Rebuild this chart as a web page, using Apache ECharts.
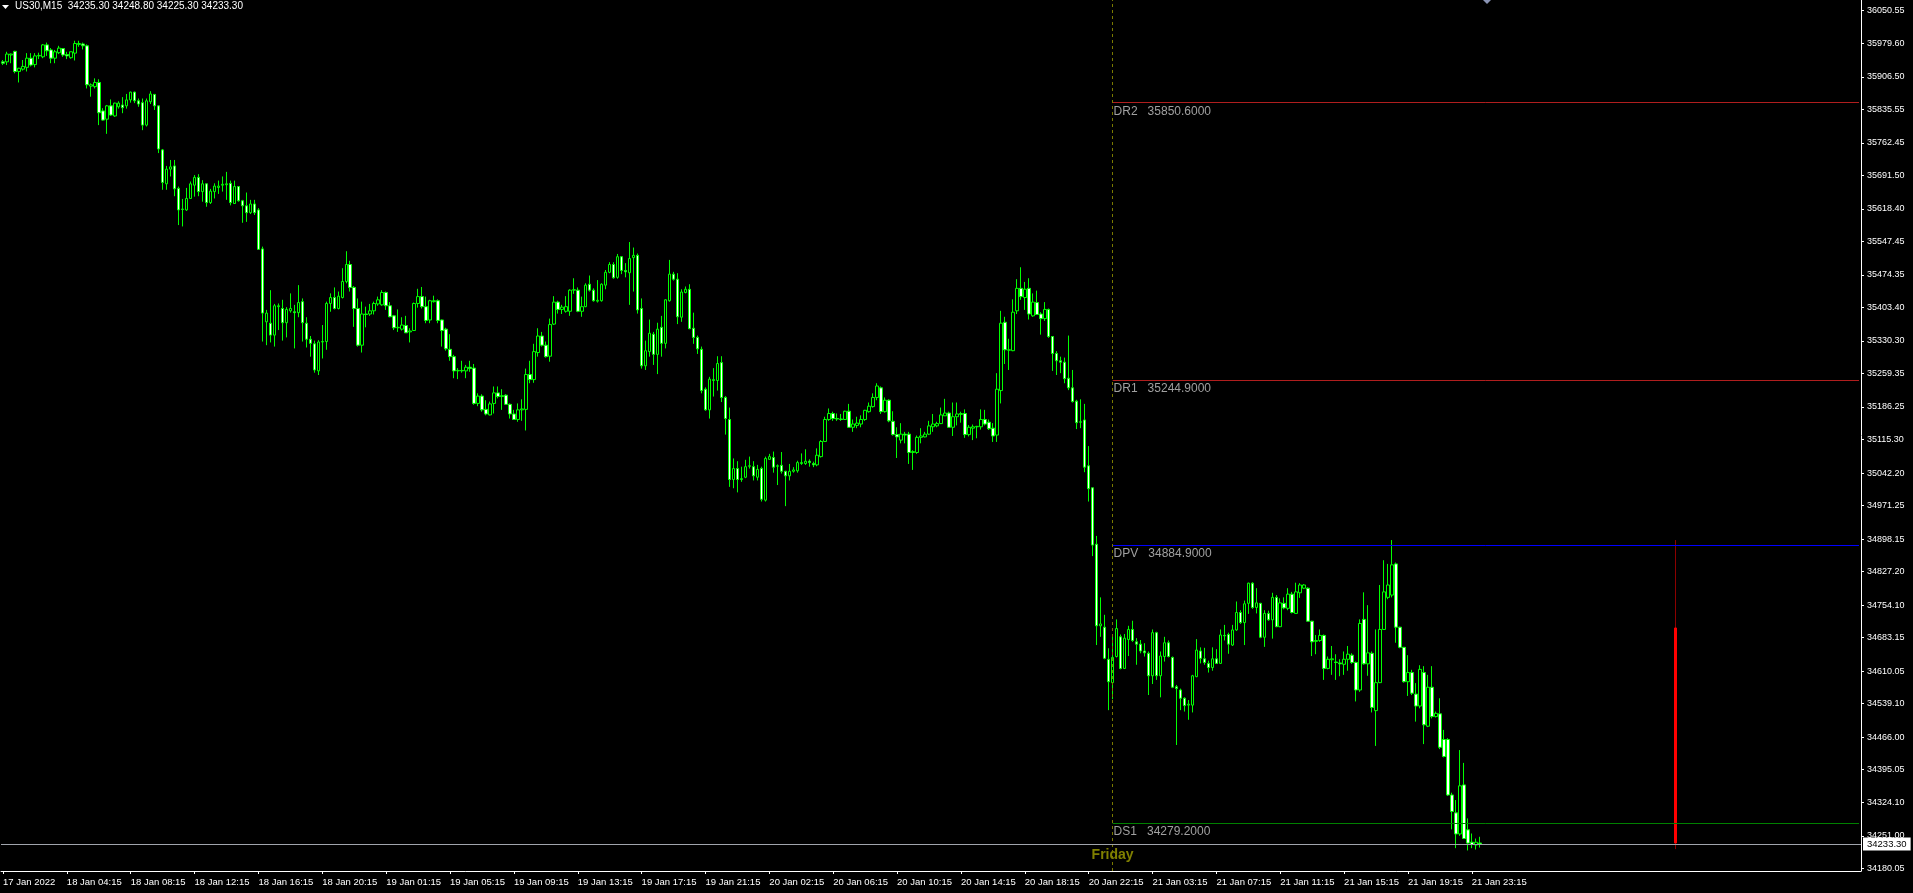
<!DOCTYPE html>
<html>
<head>
<meta charset="utf-8">
<title>US30,M15</title>
<script src="https://cdn.jsdelivr.net/npm/echarts@6/dist/echarts.min.js"></script>
<style>
  html, body { margin: 0; padding: 0; background: #000; }
  #chart { width: 1913px; height: 893px; }
</style>
</head>
<body>
<div id="chart"></div>
<script>
// symbol and timeframe
const symbolName = 'US30,M15';
// number of bar slots the window can hold
const slotCount = 466;

// time labels, one every 16 bars
const tickLabels = ['17 Jan 2022', '18 Jan 04:15', '18 Jan 08:15', '18 Jan 12:15', '18 Jan 16:15', '18 Jan 20:15',
  '19 Jan 01:15', '19 Jan 05:15', '19 Jan 09:15', '19 Jan 13:15', '19 Jan 17:15', '19 Jan 21:15',
  '20 Jan 02:15', '20 Jan 06:15', '20 Jan 10:15', '20 Jan 14:15', '20 Jan 18:15', '20 Jan 22:15',
  '21 Jan 03:15', '21 Jan 07:15', '21 Jan 11:15', '21 Jan 15:15', '21 Jan 19:15', '21 Jan 23:15'];

// price scale labels
const priceTicks = [36050.55, 35979.60, 35906.50, 35835.55, 35762.45, 35691.50, 35618.40, 35547.45, 35474.35,
  35403.40, 35330.30, 35259.35, 35186.25, 35115.30, 35042.20, 34971.25, 34898.15, 34827.20, 34754.10,
  34683.15, 34610.05, 34539.10, 34466.00, 34395.05, 34324.10, 34251.00, 34180.05];
const priceMin = 34174.2;
const priceMax = 36073.9;

// OHLC of the M15 bars
const opens = [
  35939,35939,35954,35962,35918,35923,35927,35947,35933,35952,
  35950,35976,35965,35947,35959,35968,35955,35948,35958,35977,
  35978,35974,35886,35885,35894,35832,35814,35843,35821,35841,
  35845,35843,35856,35873,35854,35850,35801,35852,35868,35843,
  35747,35673,35705,35712,35663,35617,35616,35641,35670,35687,
  35656,35673,35632,35656,35665,35670,35671,35674,35630,35667,
  35636,35625,35610,35629,35616,35531,35372,35369,35343,35405,
  35401,35370,35396,35394,35392,35416,35369,35334,35324,35265,
  35328,35329,35412,35425,35401,35425,35460,35497,35447,35401,
  35321,35389,35389,35396,35411,35409,35436,35407,35385,35359,
  35356,35364,35350,35353,35412,35427,35405,35376,35416,35418,
  35376,35356,35312,35296,35265,35266,35265,35273,35271,35194,
  35210,35181,35169,35194,35217,35209,35212,35192,35171,35159,
  35180,35181,35257,35246,35305,35341,35321,35297,35367,35415,
  35399,35395,35395,35441,35441,35395,35405,35454,35441,35417,
  35418,35452,35480,35497,35469,35514,35484,35479,35512,35517,
  35401,35276,35307,35345,35301,35360,35325,35418,35476,35465,
  35382,35436,35443,35358,35338,35312,35225,35180,35244,35244,
  35283,35207,35159,35028,35052,35028,35033,35057,35056,35033,
  35052,34983,35072,35076,35057,35059,35046,35036,35046,35047,
  35063,35063,35068,35063,35060,35078,35111,35159,35172,35161,
  35160,35159,35177,35142,35146,35149,35159,35176,35187,35207,
  35228,35176,35201,35155,35126,35114,35127,35127,35087,35087,
  35120,35121,35127,35143,35145,35150,35167,35173,35142,35165,
  35170,35172,35126,35140,35143,35143,35159,35153,35140,35125,
  35222,35371,35310,35309,35396,35445,35425,35445,35385,35414,
  35389,35379,35399,35340,35303,35287,35284,35249,35228,35199,
  35153,35158,35058,35010,34887,34709,34706,34636,34585,34642,
  34685,34616,34679,34701,34674,34669,34654,34649,34600,34694,
  34600,34642,34672,34640,34576,34569,34551,34536,34536,34598,
  34654,34637,34627,34618,34637,34627,34688,34690,34667,34700,
  34738,34716,34758,34802,34749,34758,34684,34736,34722,34771,
  34707,34758,34747,34778,34736,34781,34791,34791,34719,34675,
  34677,34688,34616,34635,34630,34628,34625,34636,34645,34629,
  34569,34723,34626,34649,34524,34585,34701,34771,34776,34844,
  34706,34662,34587,34607,34560,34534,34607,34490,34575,34511,
  34517,34461,34461,34340,34301,34255,34362,34264,34237,34231,
  34235.3];
const closes = [
  35936,35956,35956,35918,35925,35929,35947,35932,35952,35953,
  35976,35963,35947,35961,35969,35954,35952,35961,35979,35979,
  35974,35889,35889,35894,35828,35812,35843,35823,35849,35849,
  35839,35856,35873,35854,35847,35801,35854,35869,35843,35749,
  35676,35705,35710,35662,35616,35618,35641,35673,35687,35656,
  35673,35632,35657,35668,35668,35672,35673,35632,35667,35636,
  35625,35610,35629,35610,35530,35391,35391,35343,35407,35407,
  35370,35399,35401,35392,35414,35370,35334,35325,35267,35328,
  35329,35412,35425,35401,35428,35460,35497,35447,35401,35321,
  35389,35388,35396,35412,35420,35436,35407,35383,35359,35360,
  35365,35348,35352,35412,35427,35405,35375,35418,35418,35375,
  35353,35313,35296,35265,35266,35265,35273,35270,35194,35210,
  35180,35171,35193,35217,35209,35211,35192,35171,35159,35180,
  35182,35257,35246,35307,35341,35321,35296,35366,35415,35399,
  35404,35405,35441,35442,35395,35405,35452,35441,35418,35419,
  35454,35480,35497,35468,35514,35484,35481,35510,35517,35398,
  35276,35309,35347,35301,35356,35325,35420,35476,35465,35383,
  35437,35443,35357,35338,35313,35222,35180,35247,35246,35281,
  35207,35161,35028,35052,35028,35030,35056,35058,35036,35050,
  34985,35074,35078,35055,35058,35046,35036,35046,35049,35065,
  35065,35068,35065,35060,35081,35111,35159,35172,35161,35160,
  35159,35177,35142,35149,35151,35159,35179,35188,35207,35232,
  35176,35201,35156,35126,35121,35127,35125,35087,35089,35120,
  35123,35127,35145,35149,35150,35169,35173,35142,35165,35171,
  35172,35126,35142,35143,35144,35159,35149,35139,35123,35225,
  35369,35311,35311,35393,35445,35427,35443,35389,35415,35388,
  35379,35399,35340,35303,35287,35284,35248,35228,35198,35152,
  35154,35055,35008,34885,34709,34713,34638,34587,34640,34703,
  34616,34682,34701,34677,34669,34654,34650,34600,34694,34600,
  34643,34672,34642,34575,34572,34551,34535,34538,34600,34656,
  34638,34629,34618,34637,34627,34689,34687,34669,34700,34738,
  34716,34757,34802,34749,34759,34684,34736,34722,34771,34707,
  34759,34748,34778,34738,34783,34798,34798,34719,34674,34677,
  34688,34616,34636,34637,34629,34626,34636,34647,34629,34569,
  34714,34626,34650,34531,34585,34701,34783,34798,34842,34706,
  34662,34587,34607,34562,34534,34614,34493,34575,34511,34518,
  34444,34424,34340,34304,34255,34360,34245,34235,34232,34237,
  34233.3];
const lows = [
  35932,35932,35936,35914,35894,35920,35918,35929,35927,35945,
  35947,35952,35936,35936,35956,35950,35945,35946,35942,35972,
  35966,35881,35863,35881,35801,35811,35782,35821,35819,35837,
  35827,35837,35850,35849,35841,35790,35798,35847,35834,35740,
  35660,35660,35689,35646,35583,35580,35614,35640,35645,35646,
  35634,35623,35629,35641,35651,35656,35638,35626,35629,35634,
  35588,35590,35607,35605,35529,35329,35321,35327,35318,35354,
  35331,35338,35392,35314,35382,35329,35316,35296,35261,35256,
  35292,35311,35394,35399,35399,35423,35456,35438,35361,35318,
  35305,35360,35385,35388,35407,35407,35398,35382,35354,35350,
  35353,35348,35327,35352,35403,35401,35369,35369,35414,35369,
  35318,35309,35287,35249,35247,35261,35249,35263,35191,35188,
  35176,35168,35168,35172,35205,35180,35191,35161,35158,35154,
  35156,35135,35238,35239,35296,35318,35294,35285,35365,35390,
  35389,35392,35385,35433,35393,35383,35404,35438,35416,35414,
  35416,35443,35478,35466,35466,35476,35469,35409,35438,35390,
  35270,35267,35296,35278,35258,35296,35314,35416,35462,35367,
  35372,35434,35356,35324,35302,35216,35178,35161,35209,35222,
  35197,35126,35012,35009,35000,35023,35031,35052,35026,35026,
  34980,34980,35071,35043,35016,35041,34970,35026,35043,35043,
  35060,35060,35056,35055,35057,35076,35110,35156,35156,35156,
  35156,35158,35141,35132,35140,35142,35156,35174,35185,35201,
  35171,35174,35153,35124,35075,35107,35107,35062,35049,35084,
  35107,35120,35125,35132,35142,35149,35167,35142,35123,35146,
  35152,35119,35122,35114,35118,35137,35146,35136,35110,35110,
  35194,35280,35267,35308,35389,35420,35398,35377,35383,35387,
  35344,35374,35337,35265,35256,35260,35238,35223,35196,35138,
  35140,35044,34980,34861,34667,34685,34636,34525,34549,34640,
  34614,34615,34643,34674,34624,34649,34642,34558,34582,34591,
  34553,34631,34640,34573,34449,34525,34522,34504,34520,34597,
  34627,34624,34607,34611,34626,34626,34677,34648,34665,34698,
  34713,34667,34735,34746,34736,34682,34663,34720,34681,34706,
  34706,34745,34743,34736,34735,34770,34789,34718,34643,34647,
  34674,34591,34614,34602,34591,34599,34602,34611,34626,34544,
  34565,34624,34600,34520,34447,34584,34700,34767,34771,34672,
  34660,34585,34556,34558,34500,34529,34451,34488,34507,34509,
  34440,34422,34338,34265,34224,34251,34244,34219,34224,34221,
  34225.3];
const highs = [
  35943,35961,35957,35963,35926,35943,35958,35958,35958,35959,
  35978,35981,35969,35965,35974,35969,35961,35961,35985,35985,
  35981,35977,35892,35903,35901,35838,35845,35857,35850,35853,
  35862,35869,35874,35874,35859,35859,35859,35875,35869,35843,
  35749,35712,35725,35725,35667,35640,35664,35678,35692,35694,
  35681,35674,35662,35674,35680,35689,35699,35680,35680,35668,
  35638,35654,35638,35638,35620,35536,35398,35441,35411,35412,
  35420,35404,35434,35409,35452,35423,35382,35341,35331,35332,
  35365,35416,35434,35447,35438,35489,35526,35505,35450,35423,
  35416,35405,35411,35416,35427,35441,35438,35415,35387,35399,
  35382,35385,35358,35414,35444,35448,35427,35420,35429,35421,
  35377,35359,35345,35300,35271,35287,35278,35287,35280,35216,
  35214,35201,35198,35231,35231,35225,35214,35194,35180,35194,
  35203,35270,35287,35324,35358,35350,35329,35379,35428,35418,
  35409,35428,35443,35467,35447,35427,35456,35473,35445,35463,
  35456,35485,35502,35502,35520,35515,35500,35546,35534,35521,
  35423,35331,35377,35350,35370,35385,35421,35507,35481,35478,
  35443,35449,35454,35392,35342,35318,35229,35252,35271,35297,
  35297,35210,35185,35074,35068,35056,35071,35078,35068,35060,
  35056,35078,35084,35089,35061,35088,35047,35062,35055,35069,
  35085,35094,35072,35067,35096,35114,35165,35183,35176,35172,
  35171,35178,35193,35159,35165,35168,35180,35196,35216,35238,
  35231,35207,35203,35177,35142,35151,35132,35132,35092,35124,
  35140,35132,35156,35171,35154,35185,35204,35176,35196,35196,
  35176,35181,35147,35148,35145,35181,35180,35159,35151,35260,
  35396,35383,35335,35421,35465,35491,35459,35467,35434,35440,
  35393,35415,35401,35341,35308,35296,35294,35342,35267,35202,
  35203,35193,35101,35010,34905,34771,34733,34660,34687,34723,
  34690,34691,34709,34720,34682,34678,34671,34653,34701,34696,
  34653,34685,34677,34642,34580,34572,34553,34547,34602,34680,
  34662,34661,34633,34662,34658,34701,34711,34694,34711,34762,
  34743,34764,34803,34804,34791,34759,34743,34742,34781,34776,
  34769,34771,34791,34783,34803,34802,34800,34793,34720,34689,
  34701,34690,34642,34665,34647,34636,34653,34665,34649,34631,
  34723,34782,34754,34653,34701,34798,34852,34844,34896,34847,
  34707,34663,34645,34613,34584,34623,34621,34602,34621,34522,
  34551,34482,34464,34345,34329,34438,34410,34289,34256,34245,
  34248.8];

// daily pivot levels
const pivotNames = ['DR2', 'DR1', 'DPV', 'DS1'];
const pivotValues = [35850.6, 35244.9, 34884.9, 34279.2];

// first bar of the new day
const dayStartIndex = 278;
const dayName = 'Friday';

// red range bar drawn ahead of price: open, close, low, high
const rangeIndex = 419;
const rangeBar = [34704.2, 34235.3, 34222.0, 34896.0];

// ---- styles ----
const axisFont = "'Liberation Sans', Arial, sans-serif";
const axisSize = 9;
const timeSize = 9.5;
const headerSize = 10;
const textFont = "'Liberation Sans', Arial, sans-serif";
const pivotColors = ['#b01e1e', '#b01e1e', '#0000ff', '#008000'];
const candleColor = '#00ff00';

const categories = Array.from({ length: slotCount }, (_, i) => String(i));
const candleData = opens.map((o, i) => [o, closes[i], lows[i], highs[i]]);
const last = closes.length - 1;
const lastClose = closes[last];

const wickData = categories.map(() => '-');
wickData[rangeIndex] = [rangeBar[2], rangeBar[2], rangeBar[2], rangeBar[3]];
const bodyData = categories.map(() => '-');
bodyData[rangeIndex] = [rangeBar[0], rangeBar[1], rangeBar[1], rangeBar[0]];

const isTick = (index) => index % 16 === 0 && index / 16 < tickLabels.length;

const markLines = pivotNames.map((name, k) => [
  {
    coord: [String(dayStartIndex), pivotValues[k]],
    lineStyle: { color: pivotColors[k], width: 1, type: 'solid' },
    label: {
      show: true,
      position: 'insideStartBottom',
      distance: [1, 3],
      formatter: name + '   ' + pivotValues[k].toFixed(4),
      color: '#a0a0a0',
      fontFamily: textFont,
      fontSize: 12
    }
  },
  { coord: [String(slotCount - 1), pivotValues[k]] }
]);
markLines.push({
  xAxis: String(dayStartIndex),
  lineStyle: { color: '#7a7a00', width: 1, type: [3, 3] },
  label: { show: false }
});
markLines.push({
  yAxis: lastClose,
  lineStyle: { color: '#a0a4ac', width: 1, type: 'solid' },
  label: {
    show: true,
    position: 'end',
    distance: 2,
    formatter: lastClose.toFixed(2),
    color: '#000',
    backgroundColor: '#fff',
    padding: [2, 4, 1, 4],
    fontFamily: axisFont,
    fontSize: 9.5
  }
});

const chart = echarts.init(document.getElementById('chart'));

chart.setOption({
  backgroundColor: '#000',
  animation: false,
  grid: { left: -3, right: 52, top: 0, bottom: 22 },
  xAxis: {
    type: 'category',
    data: categories,
    boundaryGap: true,
    axisLine: { lineStyle: { color: '#ffffff', width: 1 } },
    axisTick: { show: true, alignWithLabel: true, interval: isTick, length: 3, lineStyle: { color: '#ffffff' } },
    axisLabel: {
      interval: isTick,
      formatter: (v, index) => tickLabels[index / 16],
      align: 'left',
      margin: 6,
      color: '#ffffff',
      fontFamily: axisFont,
      fontSize: timeSize
    },
    splitLine: { show: false }
  },
  yAxis: {
    type: 'value',
    position: 'right',
    min: priceMin,
    max: priceMax,
    scale: true,
    axisLine: { show: true, lineStyle: { color: '#ffffff', width: 1 } },
    axisTick: { show: true, length: 3, customValues: priceTicks, lineStyle: { color: '#ffffff' } },
    axisLabel: {
      customValues: priceTicks,
      formatter: (v) => v.toFixed(2),
      margin: 6,
      color: '#ffffff',
      fontFamily: axisFont,
      fontSize: axisSize
    },
    splitLine: { show: false }
  },
  series: [
    {
      type: 'candlestick',
      data: candleData,
      barWidth: 3,
      itemStyle: {
        color: '#000000',
        color0: '#ffffff',
        borderColor: candleColor,
        borderColor0: candleColor,
        borderColorDoji: candleColor,
        borderWidth: 1
      },
      markLine: { silent: true, symbol: ['none', 'none'], animation: false, data: markLines }
    },
    {
      type: 'candlestick',
      data: wickData,
      barWidth: 1,
      itemStyle: {
        color: '#8b0000', color0: '#8b0000',
        borderColor: '#8b0000', borderColor0: '#8b0000', borderColorDoji: '#8b0000',
        borderWidth: 1
      }
    },
    {
      type: 'candlestick',
      data: bodyData,
      barWidth: 3,
      itemStyle: {
        color: '#ff0000', color0: '#ff0000',
        borderColor: '#ff0000', borderColor0: '#ff0000',
        borderWidth: 1
      }
    }
  ]
});

// header and day name
const dayX = chart.convertToPixel({ xAxisIndex: 0 }, String(dayStartIndex));
const header = symbolName + '  ' + [opens[last], highs[last], lows[last], closes[last]].map(v => v.toFixed(2)).join(' ');
chart.setOption({
  graphic: [
    { type: 'polygon', shape: { points: [[2, 5], [9, 5], [5.5, 9]] }, style: { fill: '#ffffff' } },
    { type: 'text', x: 15, y: 6, style: { text: header, fill: '#ffffff', font: headerSize + 'px ' + axisFont, textVerticalAlign: 'middle' } },
    { type: 'polygon', shape: { points: [[1483, 0], [1491, 0], [1487, 4]] }, style: { fill: '#8a94b4' } },
    { type: 'text', x: dayX, y: 855, style: { text: dayName, fill: '#808000', font: 'bold 14px ' + textFont, textAlign: 'center', textVerticalAlign: 'middle' } }
  ]
});
</script>
</body>
</html>
